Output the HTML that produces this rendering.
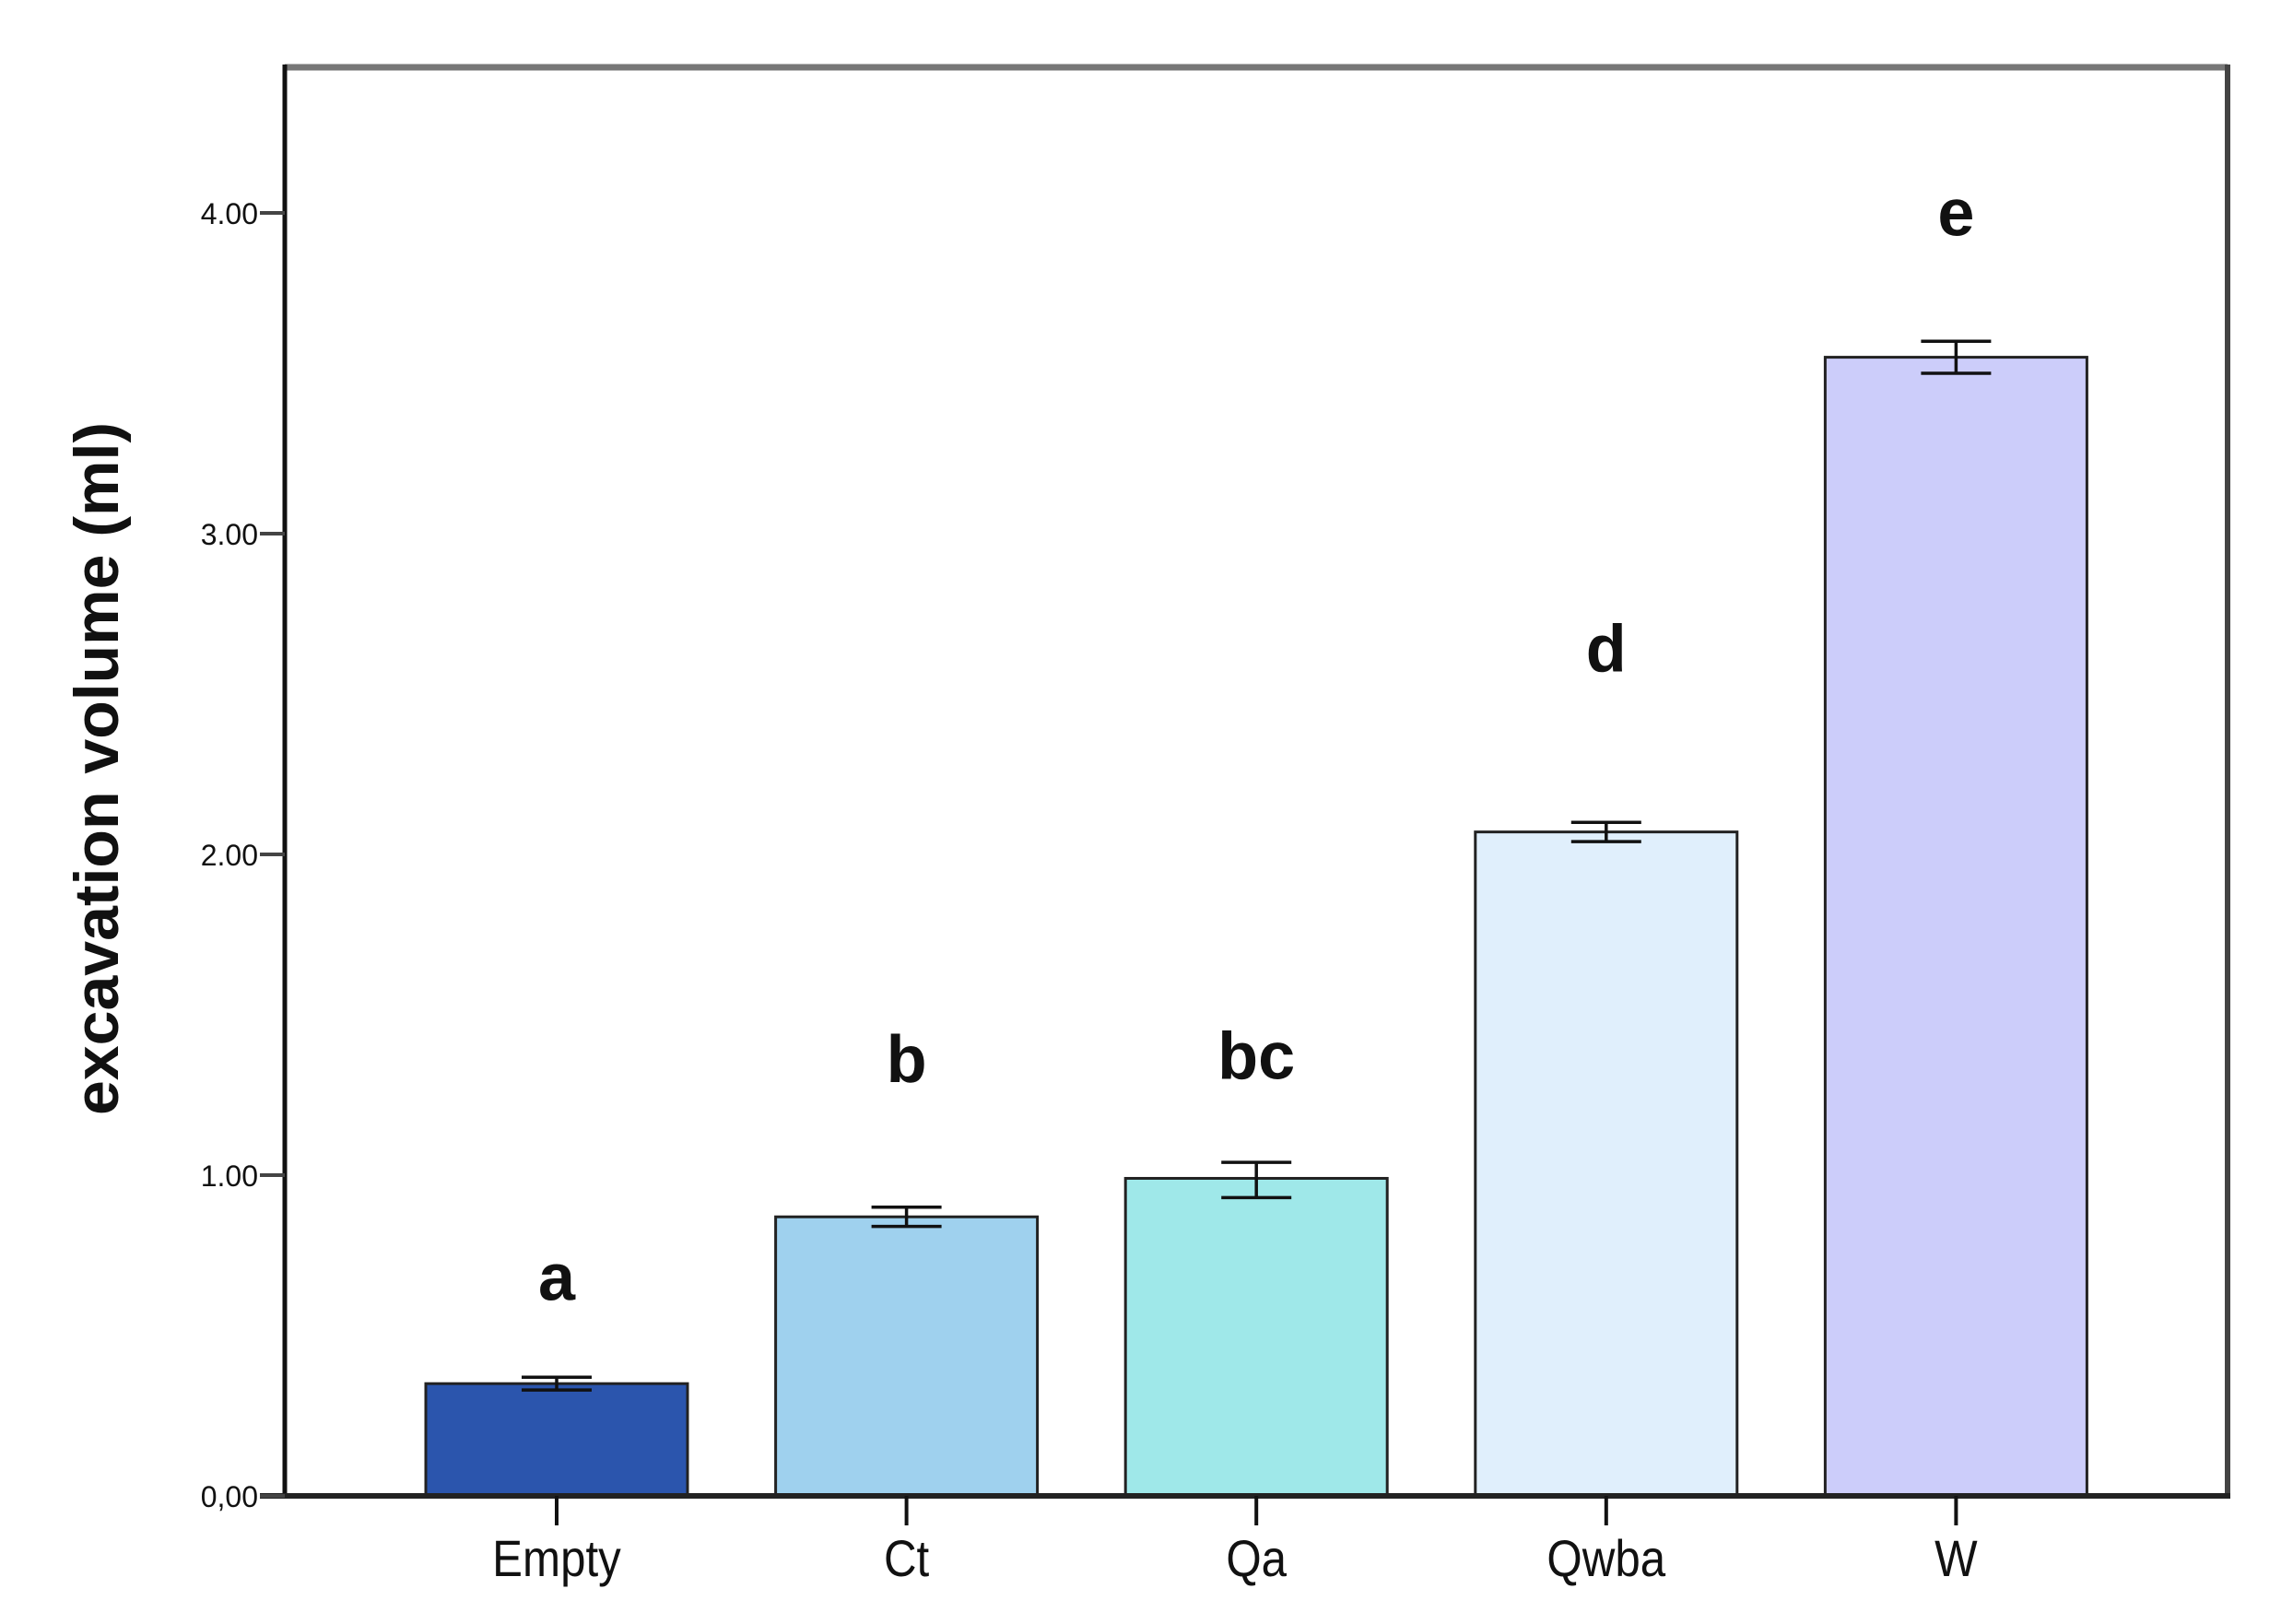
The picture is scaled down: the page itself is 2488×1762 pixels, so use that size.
<!DOCTYPE html>
<html><head><meta charset="utf-8"><style>
html,body{margin:0;padding:0;background:#fff;}
svg{display:block;font-family:"Liberation Sans",Arial,sans-serif;}
</style></head><body>
<svg id="chart" width="2488" height="1762" viewBox="0 0 2488 1762" xmlns="http://www.w3.org/2000/svg">
<rect x="0" y="0" width="2488" height="1762" fill="#fff"/>
<line x1="309" y1="73" x2="2417" y2="73" stroke="#777" stroke-width="7"/>
<line x1="2417" y1="70" x2="2417" y2="1623" stroke="#444" stroke-width="6"/>
<g id="bars"></g>
<line x1="309" y1="70" x2="309" y2="1626" stroke="#111" stroke-width="5"/>
<line x1="282" y1="1623" x2="2420" y2="1623" stroke="#222" stroke-width="6"/>
<g id="yticks"></g>
<g id="xticks"></g>
<text x="0" y="0" transform="translate(128,834) rotate(-90)" text-anchor="middle" font-size="68" font-weight="bold" fill="#111">excavation volume (ml)</text>
</svg>
<script>
const categories = ["Empty","Ct","Qa","Qwba","W"];
const values = [0.35, 0.87, 0.99, 2.07, 3.55];
const errLow = [0.33, 0.84, 0.93, 2.04, 3.50];
const errHigh = [0.37, 0.90, 1.04, 2.10, 3.60];
const letters = ["a","b","bc","d","e"];
const letterPos = [0.61, 1.29, 1.30, 2.57, 3.93];
const yTicks = [0, 1, 2, 3, 4];
const yTickLabels = ["0,00","1.00","2.00","3.00","4.00"];
const colors = ["#2b55ad","#9fd1ee","#9fe8e9","#e0effc","#cccdfa"];

const NS = "http://www.w3.org/2000/svg";
const y0 = 1623, unit = 348;
function yScale(v){ return y0 - v*unit; }
function xScale(i){ return 604 + i*379.6; }
const bw = 284, cap = 38;
function mk(tag, attrs, parent){ const e=document.createElementNS(NS,tag); for(const k in attrs) e.setAttribute(k,attrs[k]); parent.appendChild(e); return e; }

const gb = document.getElementById('bars');
categories.forEach((c,i)=>{
  const cx = xScale(i), top = yScale(values[i]);
  const r = mk('rect',{x:cx-bw/2,y:top,width:bw,height:y0-top,fill:colors[i],stroke:'#222','stroke-width':3},gb);
  
  
  const eb = mk('path',{d:`M${cx-cap},${yScale(errHigh[i])}H${cx+cap}M${cx},${yScale(errHigh[i])}V${yScale(errLow[i])}M${cx-cap},${yScale(errLow[i])}H${cx+cap}`,stroke:'#111','stroke-width':3.5,fill:'none'},gb);
  
  
  const t = mk('text',{x:cx,y:yScale(letterPos[i]),'text-anchor':'middle','font-size':72,'font-weight':'bold',fill:'#111'},gb);
  t.textContent = letters[i];
  
  
});
const gy = document.getElementById('yticks');
yTicks.forEach((v,i)=>{
  const y = yScale(v);
  const l = mk('line',{x1:282,y1:y,x2:309,y2:y,stroke:'#444','stroke-width':4},gy);
  
  
  const t = mk('text',{x:280,y:y+12,'text-anchor':'end','font-size':32,fill:'#111'},gy);
  t.textContent = yTickLabels[i];
  
  
});
const gx = document.getElementById('xticks');
categories.forEach((c,i)=>{
  const cx = xScale(i);
  const l = mk('line',{x1:cx,y1:y0,x2:cx,y2:y0+32,stroke:'#111','stroke-width':4},gx);
  
  
  const t = mk('text',{x:cx,y:1710,'text-anchor':'middle','font-size':56,fill:'#111',transform:`translate(${cx},0) scale(0.88,1) translate(${-cx},0)`},gx);
  t.textContent = c;
  
  
});
</script>
</body></html>
